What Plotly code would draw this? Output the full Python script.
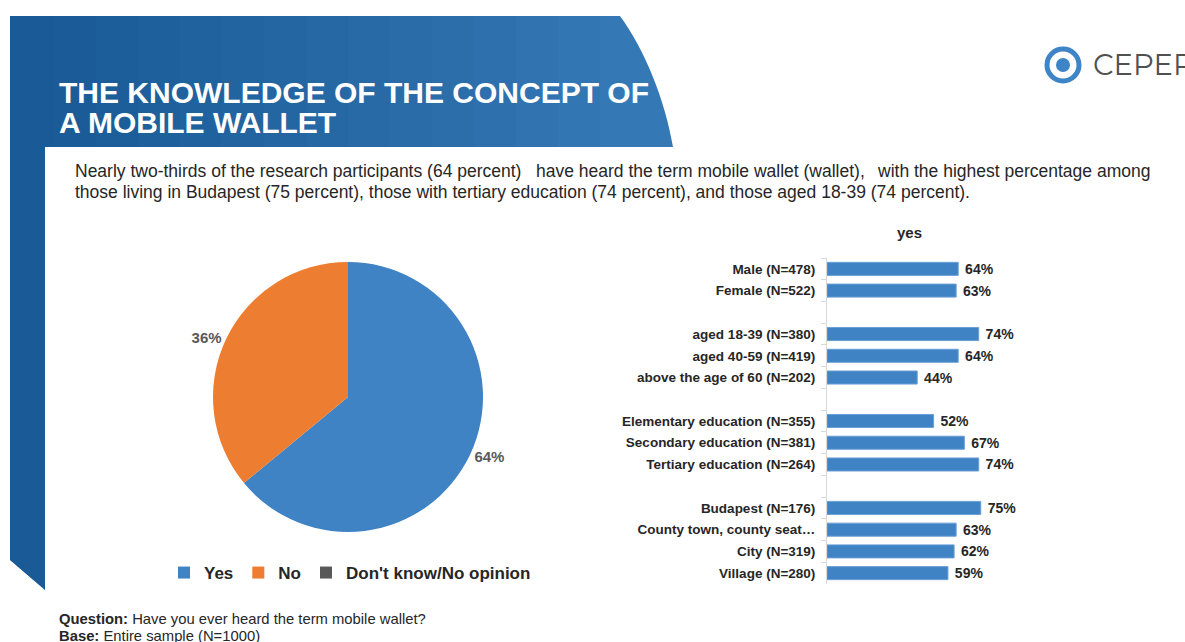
import plotly.graph_objects as go

W, H = 1185, 642

def px(x):
    return x / W

def py(y):
    return 1 - y / H

# ---------------- data ----------------
pie_labels = ["Yes", "No", "Don't know/No opinion"]
pie_values = [64, 36, 0]
pie_colors = ["#3f83c5", "#ed7d31", "#595959"]

bar_categories = [
    "Male (N=478)", "Female (N=522)", " ",
    "aged 18-39 (N=380)", "aged 40-59 (N=419)", "above the age of 60 (N=202)", "  ",
    "Elementary education (N=355)", "Secondary education (N=381)", "Tertiary education (N=264)", "   ",
    "Budapest (N=176)", "County town, county seat…", "City (N=319)", "Village (N=280)",
]
yes_values = [64, 63, None, 74, 64, 44, None, 52, 67, 74, None, 75, 63, 62, 59]
bar_title = "yes"

title_lines = ["THE KNOWLEDGE OF THE CONCEPT OF", "A MOBILE WALLET"]
para_line1_parts = [
    "Nearly two-thirds of the research participants (64 percent)",
    "have heard the term mobile wallet (wallet),",
    "with the highest percentage among",
]
para_line2 = ("those living in Budapest (75 percent), those with tertiary education "
              "(74 percent), and those aged 18-39 (74 percent).")

FONT = "Liberation Sans, Arial, sans-serif"
TXT = "#262626"

fig = go.Figure()

fig.add_trace(go.Pie(
    labels=pie_labels, values=pie_values, sort=False, direction="clockwise",
    rotation=0,
    marker=dict(colors=pie_colors, line=dict(width=0)),
    texttemplate=["%{percent:.0%}", "%{percent:.0%}", ""],
    textposition="outside",
    textfont=dict(family=FONT, size=15, color="#595959", weight="bold"),
    domain=dict(x=[px(213), px(483)], y=[py(532), py(262)]),
    showlegend=True, hoverinfo="label+percent",
))

fig.add_trace(go.Bar(
    y=bar_categories, x=yes_values, orientation="h",
    marker=dict(color="#3f83c5", line=dict(color="#6b9fd6", width=1)),
    text=[f"\u00a0{v}%" if v is not None else "" for v in yes_values],
    textposition="outside", constraintext="none",
    textfont=dict(family=FONT, size=14, color=TXT, weight="bold"),
    cliponaxis=False, showlegend=False, width=0.6,
))

fig.update_layout(
    width=W, height=H, margin=dict(l=0, r=0, t=0, b=0),
    paper_bgcolor="white", plot_bgcolor="rgba(0,0,0,0)",
    font=dict(family=FONT, color=TXT),
    xaxis=dict(domain=[px(827), px(1032)], range=[0, 100], visible=False, fixedrange=True),
    yaxis=dict(domain=[py(584), py(258)], type="category", autorange="reversed",
               showline=True, linecolor="#d9d9d9", linewidth=1,
               ticks="outside", tickson="boundaries", ticklen=5, tickcolor="#d9d9d9",
               ticklabelstandoff=8,
               tickfont=dict(family=FONT, size=13.5, color=TXT, weight="bold"),
               showgrid=False, zeroline=False, fixedrange=True),
    legend=dict(orientation="h", x=px(350), xanchor="center", y=py(573), yanchor="middle",
                font=dict(family=FONT, size=17, color=TXT, weight="bold"),
                bgcolor="rgba(0,0,0,0)", itemclick=False, itemdoubleclick=False),
    showlegend=True,
)

shapes = []
# blue header + left strip
shapes.append(dict(
    type="path", xref="paper", yref="paper", layer="below",
    path=(f"M {px(10)},{py(16)} L {px(620)},{py(16)} "
          f"C {px(645)},{py(50)} {px(665)},{py(100)} {px(673)},{py(147)} "
          f"L {px(673)},{py(600)} L {px(45)},{py(600)} L {px(45)},{py(590)} "
          f"L {px(10)},{py(560)} Z"),
    fillcolor="#3479b6", line=dict(width=0),
))
# gradient overlays (darker to the left)
for k in range(14):
    x1 = 600 - k * 42
    shapes.append(dict(
        type="path", xref="paper", yref="paper", layer="below",
        path=(f"M {px(10)},{py(16)} L {px(x1)},{py(16)} L {px(x1)},{py(600)} "
              f"L {px(45)},{py(600)} L {px(45)},{py(590)} L {px(10)},{py(560)} Z"),
        fillcolor="#0d3d66", opacity=0.035, line=dict(width=0),
    ))
# white content box
shapes.append(dict(type="rect", xref="paper", yref="paper", layer="below",
                   x0=px(45), x1=px(1185), y0=py(642), y1=py(147),
                   fillcolor="white", line=dict(width=0)))
# logo
shapes.append(dict(type="circle", xref="paper", yref="paper", layer="above",
                   x0=px(1047), x1=px(1079), y0=py(81), y1=py(49),
                   fillcolor="white", line=dict(color="#3d85c6", width=5)))
shapes.append(dict(type="circle", xref="paper", yref="paper", layer="above",
                   x0=px(1056), x1=px(1070), y0=py(72), y1=py(58),
                   fillcolor="#3d85c6", line=dict(width=0)))
fig.update_layout(shapes=shapes)

def note(text, x, y, anchor="left", size=17.5, color=TXT, family=FONT):
    return dict(text=text, x=px(x), y=py(y), xref="paper", yref="paper",
                xanchor=anchor, yanchor="middle", align="left", showarrow=False,
                font=dict(family=family, size=size, color=color))

ann = []
ann.append(note("<b>" + title_lines[0] + "</b>", 57, 92, size=30, color="white"))
ann.append(note("<b>" + title_lines[1] + "</b>", 57, 123, size=30, color="white"))
ann.append(note("CEPER", 1091, 65, size=29, color="#505050", family="Montserrat, Lato, sans-serif"))
# paragraph (approximately justified first line)
ann.append(note(para_line1_parts[0], 73, 171))
ann.append(note(para_line1_parts[1], 534, 171))
ann.append(note(para_line1_parts[2], 1152, 171, anchor="right"))
ann.append(note(para_line2, 73, 192))
ann.append(note("<b>" + bar_title + "</b>", 909, 232, anchor="center", size=15))
ann.append(note("<b>Question:</b> Have you ever heard the term mobile wallet?", 57, 619, size=14.8))
ann.append(note("<b>Base:</b> Entire sample (N=1000)", 57, 636, size=14.8))
fig.update_layout(annotations=ann)

fig.write_html("out.html")
